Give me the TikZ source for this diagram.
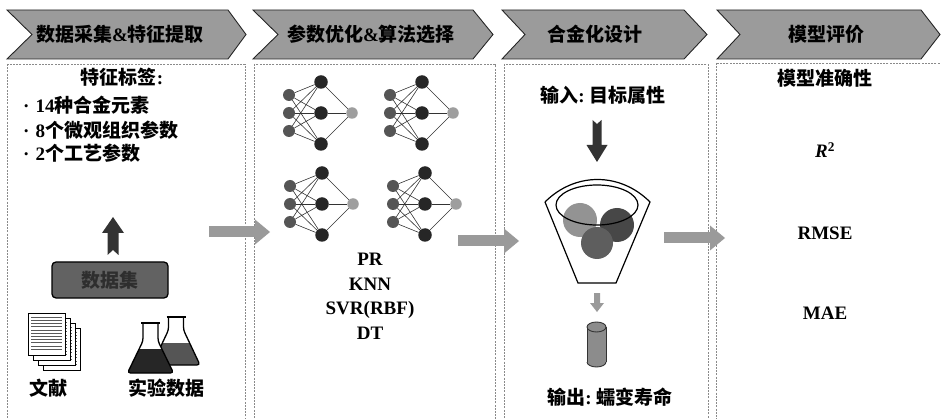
\documentclass[tikz,border=0pt]{standalone}
\usepackage{fontspec}
\setmainfont{Liberation Serif}
\newfontfamily\cjk{Noto Sans CJK SC}
\usetikzlibrary{arrows.meta}

\definecolor{chevgray}{HTML}{9B9B9B}
\definecolor{flowgray}{HTML}{9A9A9A}
\definecolor{darkarrow}{HTML}{333333}
\definecolor{panelline}{HTML}{8A8A8A}
\definecolor{inpgray}{HTML}{555555}
\definecolor{hidgray}{HTML}{262626}
\definecolor{outgray}{HTML}{9E9E9E}
\definecolor{dsfill}{HTML}{626262}
\definecolor{dstext}{HTML}{2E2E2E}
\definecolor{cylgray}{HTML}{8C8C8C}

% bold CJK run
\newcommand{\zh}[1]{{\cjk\bfseries #1}}

% header chevron: left edge, notch tip, top-right corner, point
\newcommand{\chevron}[4]{%
  \draw[chev] (#1,10) -- (#3,10) -- (#4,34.5) -- (#3,59) -- (#1,59) -- (#2,34.5) -- cycle;}

% small neural network: name, x of input column, centre y
\newcommand{\nnet}[3]{%
  \foreach \k/\dy in {1/-18,2/0,3/18} \node[inp] (#1i\k) at (#2,#3+\dy) {};
  \foreach \k/\dy in {1/-31,2/0,3/31} \node[hid] (#1h\k) at (#2+32,#3+\dy) {};
  \node[outn] (#1o) at (#2+63,#3) {};
  \foreach \a in {1,2,3}{%
    \foreach \b in {1,2,3} \draw[nnedge] (#1i\a) -- (#1h\b);
    \draw[nnedge] (#1h\a) -- (#1o);}}

% Erlenmeyer flask: cx, top y, neck length, bottom y, half body width, liquid level, liquid colour
\newcommand{\flask}[7]{%
  \fill[white, rounded corners=3pt] (#1-7.5,#2) -- (#1-7.5,#2+#3) -- (#1-#5,#4) -- (#1+#5,#4) -- (#1+7.5,#2+#3) -- (#1+7.5,#2) -- cycle;
  \begin{scope}
    \clip[rounded corners=3pt] (#1-7.5,#2) -- (#1-7.5,#2+#3) -- (#1-#5,#4) -- (#1+#5,#4) -- (#1+7.5,#2+#3) -- (#1+7.5,#2) -- cycle;
    \fill[#7] (#1-#5-3,#6) rectangle (#1+#5+3,#4+3);
  \end{scope}
  \draw[line width=1.3pt, rounded corners=3pt] (#1-7.5,#2) -- (#1-7.5,#2+#3) -- (#1-#5,#4) -- (#1+#5,#4) -- (#1+7.5,#2+#3) -- (#1+7.5,#2);
  \draw[line width=1.6pt] (#1-9.5,#2) -- (#1+9.5,#2);}

\begin{document}
\begin{tikzpicture}[x=1pt, y=-1pt,
  chev/.style={fill=chevgray, draw=black!85, line width=0.9pt, line join=miter},
  panelbox/.style={draw=panelline, line width=0.7pt, dash pattern=on 2pt off 1.2pt},
  flowarrow/.style={draw=flowgray, line width=11pt,
    -{Triangle[length=15pt, width=25pt, line width=0pt]}},
  lbl/.style={inner sep=0pt, font=\fontsize{19}{23}\selectfont\bfseries},
  inp/.style={circle, fill=inpgray, inner sep=0pt, minimum size=12pt},
  hid/.style={circle, fill=hidgray, inner sep=0pt, minimum size=13.5pt},
  outn/.style={circle, fill=outgray, inner sep=0pt, minimum size=11.5pt},
  nnedge/.style={draw=black!80, line width=0.6pt},
  blockfill/.style={fill=darkarrow}]

\useasboundingbox (0,0) rectangle (941,419);
\clip (0,0) rectangle (941,419);

% ---- header chevrons ----
\chevron{7}{32}{228}{246}
\chevron{253}{278}{473}{493}
\chevron{502}{525}{684}{707}
\chevron{717}{740}{921}{940}
\node[lbl] (h1) at (120,34) {\zh{数据采集}\&\zh{特征提取}};
\node[lbl] (h2) at (371,34) {\zh{参数优化}\&\zh{算法选择}};
\node[lbl] (h3) at (595,34) {\zh{合金化设计}};
\node[lbl] (h4) at (826,34) {\zh{模型评价}};

% ---- panels ----
\draw[panelbox] (7,64) rectangle (245,430);
\draw[panelbox] (254,64) rectangle (495,430);
\draw[panelbox] (504,64) rectangle (708,430);
\draw[panelbox] (716,63) rectangle (960,430);

% ---- panel 1: data collection ----
\node[lbl] (feat) at (122,77) {\zh{特征标签}:};
\node[lbl, anchor=west] (b1) at (23,105) {·\hspace{6pt}14\zh{种合金元素}};
\node[lbl, anchor=west] (b2) at (23,130) {·\hspace{6pt}8\zh{个微观组织参数}};
\node[lbl, anchor=west] (b3) at (23,153) {·\hspace{6pt}2\zh{个工艺参数}};

\node[lbl, draw=black, line width=1.3pt, fill=dsfill, text=dstext,
      rounded corners=4pt, minimum width=116pt, minimum height=36pt] (ds) at (110,280) {\zh{数据集}};

% notched arrow from the data set up to the feature list
\fill[blockfill] (113,217) -- (124,233) -- (118.5,233) -- (118.5,255) -- (113,250)
  -- (107.5,255) -- (107.5,233) -- (102,233) -- cycle;

% stacked literature pages
\foreach \k in {3,2,1,0} {
  \begin{scope}[shift={(5*\k,5*\k)}]
    \draw[fill=white, line width=0.7pt] (28,313) rectangle (65,355);
    \foreach \ly in {317,320.2,...,351} \draw[line width=0.5pt, black!65] (31,\ly) -- (62,\ly);
  \end{scope}
}
\node[lbl] (lit) at (48,388) {\zh{文献}};

% lab flasks
\flask{176}{317}{13}{365}{24}{343}{inpgray}
\flask{150.5}{323}{18}{373}{23}{349}{hidgray}
\node[lbl] (exp) at (166,388) {\zh{实验数据}};

% ---- panel 2: models ----
\nnet{A}{289}{113}
\nnet{B}{390}{113}
\nnet{C}{290}{204}
\nnet{D}{393}{204}
\node[lbl, align=center, font=\fontsize{19}{24.5}\selectfont\bfseries] (algs) at (370,296.5)
  {PR\\KNN\\SVR(RBF)\\DT};

% ---- panel 3: alloy design ----
\node[lbl] (in) at (603,95) {\zh{输入}:\hspace{5pt}\zh{目标属性}};
\fill[blockfill] (592.5,120) -- (597,124) -- (601.5,120) -- (601.5,145) -- (607.5,145)
  -- (597,162) -- (586.5,145) -- (592.5,145) -- cycle;

% funnel with candidate compositions
\fill[gray!85] (580,220) circle (17);
\fill[black!72] (617,225) circle (17);
\fill[black!63] (597,243) circle (16);
\draw[line width=1.2pt] (597,205) ellipse [x radius=41, y radius=20];
\draw[line width=1.2pt, line join=miter] (545,202) -- (578,283) -- (616,283) -- (650,202)
  .. controls (620,172) and (575,172) .. (545,202);

\fill[flowgray] (594,293) -- (600,293) -- (600,303) -- (604,303) -- (597,312)
  -- (590,303) -- (594,303) -- cycle;

% output cylinder
\fill[cylgray] (587,327) rectangle (606,362);
\fill[cylgray] (596.5,362) ellipse [x radius=9.5, y radius=5];
\begin{scope}
  \clip (580,362) rectangle (614,372);
  \draw[line width=0.9pt, black!80] (596.5,362) ellipse [x radius=9.5, y radius=5];
\end{scope}
\draw[line width=0.9pt, black!80] (587,327) -- (587,362) (606,327) -- (606,362);
\draw[line width=0.9pt, black!80, fill=cylgray] (596.5,327) ellipse [x radius=9.5, y radius=5];
\node[lbl] (out) at (610,397) {\zh{输出}:\hspace{5pt}\zh{蠕变寿命}};

% ---- panel 4: evaluation ----
\node[lbl] (acc) at (825,78) {\zh{模型准确性}};
\node[lbl] (r2) at (825,150) {\textit{R}\textsuperscript{2}};
\node[lbl] (rmse) at (825,233) {RMSE};
\node[lbl] (mae) at (825,313) {MAE};

% ---- flow between stages ----
\coordinate (f1a) at (209,232);
\coordinate (f1b) at (270,232);
\coordinate (f2a) at (458,241);
\coordinate (f2b) at (519,241);
\coordinate (f3a) at (664,238);
\coordinate (f3b) at (725,238);
\draw[flowarrow] (f1a) -- (f1b);
\draw[flowarrow] (f2a) -- (f2b);
\draw[flowarrow] (f3a) -- (f3b);
\end{tikzpicture}
\end{document}
